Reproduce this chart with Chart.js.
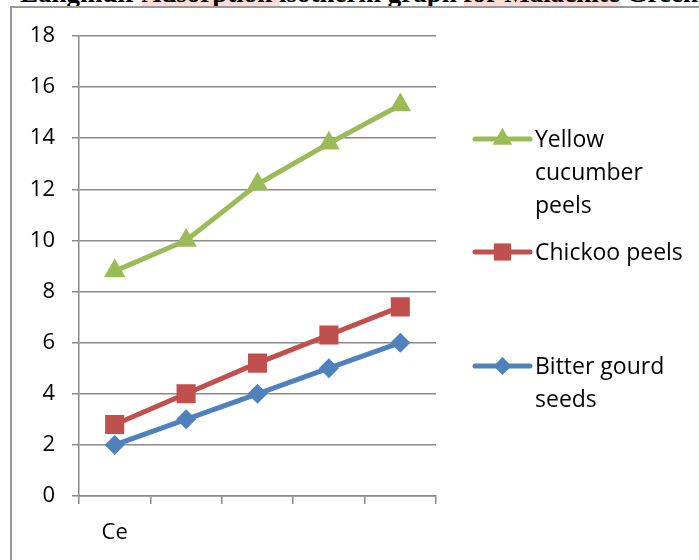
<!DOCTYPE html>
<html>
<head>
<meta charset="utf-8">
<script src="https://cdn.jsdelivr.net/npm/chart.js@4.4.1/dist/chart.umd.min.js"></script>
<style>
  html, body { margin: 0; padding: 0; background: #fff; overflow: hidden; }
  body { width: 699px; height: 560px; position: relative; }
  .doc-title {
    position: absolute; left: 20px; top: -20px; white-space: nowrap;
    font: bold 27px "Liberation Serif", "Times New Roman", serif; line-height: 27px; color: #000;
  }
  .doc-title .hl { background: #fcdcd6; }
  .frame {
    position: absolute; left: 10px; top: 6px; right: -10px; bottom: -10px;
    border-left: 2px solid #9a9a9a; border-top: 2px solid #9a9a9a;
  }
  #chartBox { position: absolute; left: 0; top: 0; width: 699px; height: 560px; }
</style>
</head>
<body>
<div class="doc-title">Langmuir <span class="hl">Adsorption </span>isotherm graph <span class="hl">for Malachite</span> Green</div>
<div class="frame"></div>
<div id="chartBox"><canvas id="isothermChart" width="699" height="560"></canvas></div>
<script>
// x categories (only the first one carries a label)
const categories = ['Ce', '', '', '', ''];

const bitterGourdSeeds = [2, 3, 4, 5, 6];
const chickooPeels = [2.8, 4, 5.2, 6.3, 7.4];
const yellowCucumberPeels = [8.8, 10, 12.2, 13.8, 15.3];

const seriesNames = ['Bitter gourd seeds', 'Chickoo peels', 'Yellow cucumber peels'];
const yTicks = [0, 2, 4, 6, 8, 10, 12, 14, 16, 18];

const FONT = '"Open Sans", "Noto Sans", sans-serif';
const gridColor = '#8a8a8a';

const datasets = [
    { label: seriesNames[0], data: bitterGourdSeeds, borderColor: '#4f81bd', backgroundColor: '#4f81bd', pointStyle: 'rectRot', pointRadius: 10 },
    { label: seriesNames[1], data: chickooPeels, borderColor: '#c0504d', backgroundColor: '#c0504d', pointStyle: 'rect', pointRadius: 13.5 },
    { label: seriesNames[2], data: yellowCucumberPeels, borderColor: '#9bbb59', backgroundColor: '#9bbb59', pointStyle: 'triangle', pointRadius: 12.5 }
].map(ds => Object.assign(ds, { borderWidth: 5, pointBorderWidth: 0, tension: 0, fill: false }));

// legend on the right, wrapped text like the office chart
const sideLegend = {
    id: 'sideLegend',
    afterDraw(chart) {
        const ctx = chart.ctx;
        const rows = [{ ds: 2, y: 139 }, { ds: 1, y: 252 }, { ds: 0, y: 366 }];
        const lineX0 = 475, lineX1 = 530, textX = 535, lineH = 33, maxW = 160;
        ctx.save();
        ctx.font = '23px ' + FONT;
        ctx.textBaseline = 'middle';
        ctx.fillStyle = '#000';
        rows.forEach(row => {
            const ds = chart.data.datasets[row.ds];
            ctx.strokeStyle = ds.borderColor;
            ctx.lineWidth = 5;
            ctx.lineCap = 'round';
            ctx.beginPath();
            ctx.moveTo(lineX0, row.y);
            ctx.lineTo(lineX1, row.y);
            ctx.stroke();
            ctx.fillStyle = ds.backgroundColor;
            Chart.helpers.drawPoint(ctx, { pointStyle: ds.pointStyle, radius: ds.pointRadius * 0.9, borderWidth: 0, rotation: 0 }, (lineX0 + lineX1) / 2, row.y);

            // simple word wrap
            const words = ds.label.split(' ');
            const lines = [];
            let cur = '';
            words.forEach(w => {
                const test = cur ? cur + ' ' + w : w;
                if (ctx.measureText(test).width > maxW && cur) { lines.push(cur); cur = w; }
                else cur = test;
            });
            lines.push(cur);
            ctx.fillStyle = '#000';
            lines.forEach((ln, i) => ctx.fillText(ln, textX, row.y + 1 + i * lineH));
        });
        ctx.restore();
    }
};

new Chart(document.getElementById('isothermChart'), {
    type: 'line',
    data: { labels: categories, datasets: datasets },
    options: {
        responsive: false,
        animation: false,
        events: [],
        layout: { padding: { left: 20, top: 36, right: 263, bottom: 0 } },
        plugins: { legend: { display: false }, tooltip: { enabled: false } },
        scales: {
            x: {
                type: 'category',
                offset: true,
                afterFit: s => { s.height = 64; },
                grid: { drawOnChartArea: false, drawTicks: true, tickLength: 8, color: gridColor, lineWidth: 1.5, offset: true },
                border: { display: true, color: gridColor, width: 1.5 },
                ticks: { color: '#000', font: { family: FONT, size: 22 }, padding: 16, autoSkip: false, maxRotation: 0 }
            },
            y: {
                min: 0,
                max: 18,
                afterFit: s => { s.width = 59; },
                afterBuildTicks: s => { s.ticks = yTicks.map(v => ({ value: v })); },
                grid: { color: gridColor, lineWidth: 1.5, tickLength: 7 },
                border: { display: true, color: gridColor, width: 1.5 },
                ticks: { color: '#000', font: { family: FONT, size: 22 }, padding: 17 }
            }
        }
    },
    plugins: [sideLegend]
});
</script>
</body>
</html>
